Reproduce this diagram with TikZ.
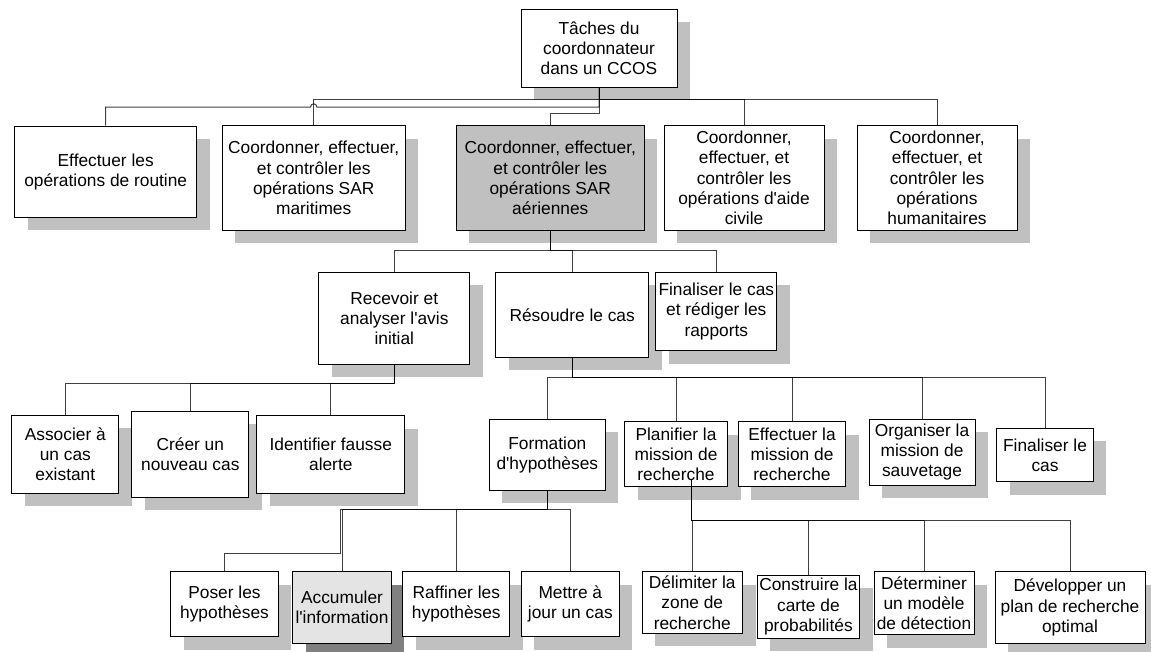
\documentclass[tikz,border=0pt]{standalone}
\usepackage{fontspec}
\setmainfont{Liberation Sans}[Ligatures=TeXOff]
\usetikzlibrary{shadows,calc}
\definecolor{shgray}{HTML}{C0C0C0}
\definecolor{selfill}{HTML}{C0C0C0}
\definecolor{lightfill}{HTML}{E4E4E4}
\definecolor{darkshadow}{HTML}{808080}
\begin{document}
\begin{tikzpicture}[x=0.75pt,y=-0.75pt,
  wh/.style 2 args={minimum width=#1*0.75pt, minimum height=#2*0.75pt},
  box/.style={draw=black, line width=0.75pt, fill=white, inner sep=0pt, align=center,
    font=\fontsize{13}{15.2}\selectfont,
    drop shadow={shadow xshift=9.75pt, shadow yshift=-9.75pt, fill=shgray, opacity=1}},
  selbox/.style={box, fill=selfill},
  curbox/.style={box, fill=lightfill,
    drop shadow={shadow xshift=9.75pt, shadow yshift=-9.75pt, fill=darkshadow, opacity=1}},
  conn/.style={draw=black, line width=0.75pt, draw opacity=0.75}]
\useasboundingbox (0,0) rectangle (1151,652);

% level 0
\node[box, wh={156}{78}] (root) at (599,48.3) {Tâches du\\coordonnateur\\dans un CCOS};

% level 1
\node[box, wh={182}{91.3}] (eff) at (105.7,171.7) {Effectuer les\\opérations de routine};
\node[box, wh={182.7}{104}] (mar) at (313.7,178) {Coordonner, effectuer,\\et contrôler les\\opérations SAR\\maritimes};
\node[selbox, wh={188}{104}] (aer) at (550.3,178) {Coordonner, effectuer,\\et contrôler les\\opérations SAR\\aériennes};
\node[box, wh={160}{104}] (aide) at (744,178) {Coordonner,\\effectuer, et\\contrôler les\\opérations d'aide\\civile};
\node[box, wh={160}{104}] (hum) at (937,178) {Coordonner,\\effectuer, et\\contrôler les\\opérations\\humanitaires};

% level 2
\node[box, wh={150.7}{91.7}] (rec) at (394.3,318.2) {Recevoir et\\analyser l'avis\\initial};
\node[box, wh={153}{85}] (res) at (572.2,314.8) {Résoudre le cas};
\node[box, wh={120.7}{78.4}] (fin) at (716.3,311.5) {Finaliser le cas\\et rédiger les\\rapports};

% level 3, initial notice
\node[box, wh={107.3}{78}] (asso) at (65.3,454) {Associer à\\un cas\\existant};
\node[box, wh={117.3}{86.3}] (cree) at (190.3,454.2) {Créer un\\nouveau cas};
\node[box, wh={148.3}{77.6}] (iden) at (330.8,454.5) {Identifier fausse\\alerte};

% level 3, case resolution
\node[box, wh={116}{70.7}] (form) at (547.3,454.7) {Formation\\d'hypothèses};
\node[box, wh={103}{65}] (plan) at (676,454.2) {Planifier la\\mission de\\recherche};
\node[box, wh={107.3}{65}] (effm) at (792,454.2) {Effectuer la\\mission de\\recherche};
\node[box, wh={106}{66}] (org) at (922,452) {Organiser la\\mission de\\sauvetage};
\node[box, wh={96.7}{53.4}] (finc) at (1045,455) {Finaliser le\\cas};

% level 4, hypotheses
\node[box, wh={107.6}{65}] (poser) at (224.5,604.2) {Poser les\\hypothèses};
\node[curbox, wh={98.6}{71.6}] (accu) at (342,607.5) {Accumuler\\l'information};
\node[box, wh={107.3}{65}] (raff) at (456.3,604.2) {Raffiner les\\hypothèses};
\node[box, wh={98}{65}] (mett) at (570.3,604.2) {Mettre à\\jour un cas};

% level 4, search planning
\node[box, wh={100.6}{61.6}] (deli) at (692.3,602.5) {Délimiter la\\zone de\\recherche};
\node[box, wh={102.8}{63.3}] (cons) at (808.4,606.7) {Construire la\\carte de\\probabilités};
\node[box, wh={100}{63.3}] (dete) at (924,603.3) {Déterminer\\un modèle\\de détection};
\node[box, wh={150}{71.6}] (deve) at (1070,607.5) {Développer un\\plan de recherche\\optimal};

% connectors from the root
\draw[conn] (root.south) -- ++(0,12) -| (mar.north);
\draw[conn] (root.south) -- ++(0,12) -| (aide.north);
\draw[conn] (root.south) -- ++(0,12) -| (hum.north);
\draw[conn] (root.south) -- ++(0,19.4) coordinate (hopline)
  -- ($(mar.north |- hopline)+(3.2,0)$)
  .. controls +(0,-4.5) and +(0,-4.5) .. ($(mar.north |- hopline)+(-3.2,0)$)
  -| (eff.north);
\draw[conn] (root.south) -- ++(0,26) -| (aer.north);

% connectors from the air operations box
\foreach \c in {rec,res,fin}
  \draw[conn] (aer.south) -- ++(0,20) -| (\c.north);

% connectors from the initial notice box
\foreach \c in {asso,cree,iden}
  \draw[conn] (rec.south) -- ++(0,18.7) -| (\c.north);

% connectors from the case resolution box
\foreach \c in {form,plan,effm,org,finc}
  \draw[conn] (res.south) -- ++(0,19.4) -| (\c.north);

% connectors from the hypotheses box
\draw[conn] (form.south) -- ++(0,19.3) -- ++(-207.3,0) -- ++(0,43.4) -| (poser.north);
\foreach \c in {accu,raff,mett}
  \draw[conn] (form.south) -- ++(0,19.3) -| (\c.north);

% connectors from the search planning box
\foreach \c in {deli,cons,dete,deve}
  \draw[conn] ($(plan.south)+(15,-7)$) -- ++(0,40.3) -| (\c.north);
\end{tikzpicture}
\end{document}
